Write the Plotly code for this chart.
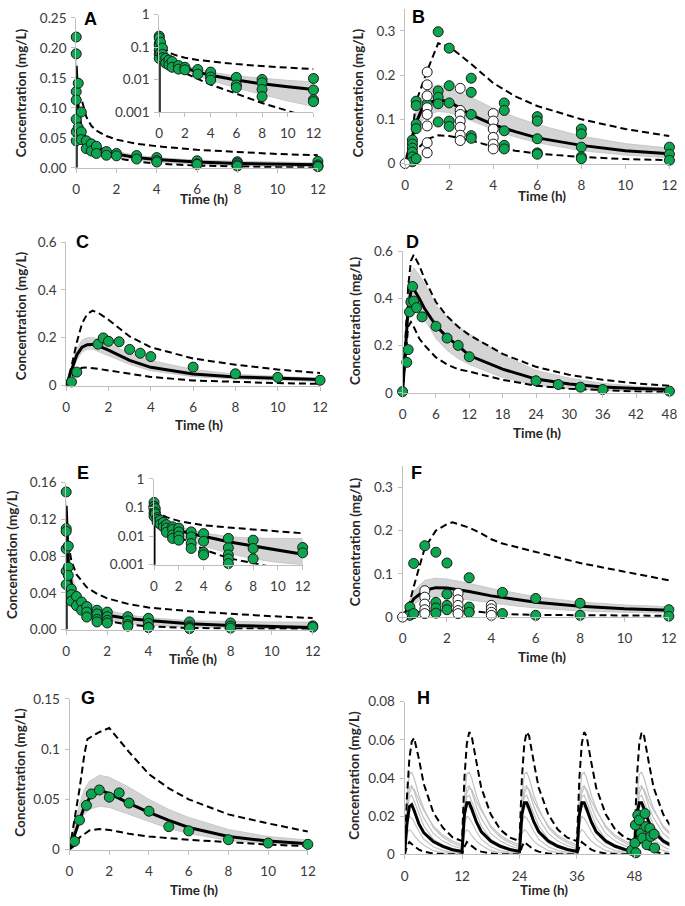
import plotly.graph_objects as go

FIG_W, FIG_H = 685, 906
GREEN = '#0ca550'
GRAY_FILL = '#d4d4d4'
GRAY_LINE = '#c2c2c2'
AXIS_COL = '#bfbfbf'
TICK_COL = '#3a3a3a'
FONT = 'Lato'

# ---------------- Panel A (IV, 0-12 h) ----------------
A_pt_t = [0, 0, 0, 0, 0, 0, 0, 0.1, 0.1, 0.25, 0.25, 0.25, 0.5, 0.5, 0.75, 0.75, 1, 1,
          1.5, 1.5, 2, 2, 3, 3, 4, 4, 4, 6, 6, 6, 8, 8, 8, 8, 12, 12, 12, 12]
A_pt_c = [0.218, 0.19, 0.127, 0.113, 0.081, 0.06, 0.045, 0.141, 0.067, 0.093, 0.06, 0.047,
          0.045, 0.032, 0.04, 0.028, 0.036, 0.024, 0.027, 0.021, 0.024, 0.02, 0.0204, 0.0147,
          0.017, 0.012, 0.0097, 0.0117, 0.0068, 0.0057, 0.0101, 0.008, 0.005, 0.003,
          0.0108, 0.0048, 0.0024, 0.0021]
A_med_t = [0, 0, 0.1, 0.25, 0.5, 0.75, 1, 1.5, 2, 3, 4, 6, 8, 10, 12]
A_med = [0, 0.17, 0.1, 0.065, 0.048, 0.04, 0.035, 0.028, 0.023, 0.017, 0.0137, 0.0097, 0.0074, 0.006, 0.005]
A_up_t = [0.3, 0.5, 0.75, 1, 1.5, 2, 3, 4, 6, 8, 10, 12]
A_up = [0.11, 0.085, 0.07, 0.062, 0.053, 0.047, 0.04, 0.036, 0.03, 0.026, 0.023, 0.021]
A_lo_t = [0.1, 0.25, 0.5, 1, 1.5, 2, 3, 4, 6, 8, 10, 12]
A_lo = [0.06, 0.045, 0.035, 0.026, 0.021, 0.016, 0.0105, 0.007, 0.0037, 0.0019, 0.0011, 0.0006]
A_g_t = [0, 0.1, 0.25, 0.5, 1, 1.5, 2, 3, 4, 6, 8, 10, 12]
A_g_hi = [0.2, 0.1, 0.07, 0.05, 0.038, 0.031, 0.027, 0.021, 0.017, 0.013, 0.011, 0.0095, 0.0085]
A_g_lo = [0.15, 0.07, 0.05, 0.038, 0.029, 0.023, 0.019, 0.013, 0.0095, 0.0055, 0.0034, 0.0022, 0.0015]

# ---------------- Panel B ----------------
B_pt_t = [1.5, 2, 3, 2, 1.5, 1.5, 1.5, 2, 3, 3, 3, 3, 2, 2, 1.5, 1, 0.5, 0.5, 0.5, 0.5,
          0.33, 0.33, 0.33, 0.33, 0.33, 0.33, 0.5, 4.5, 4.5, 4.5, 4.5, 4.5, 6, 6, 6, 6, 6,
          8, 8, 8, 8, 8, 12, 12, 12]
B_pt_c = [0.298, 0.261, 0.193, 0.176, 0.164, 0.150, 0.135, 0.137, 0.161, 0.111, 0.063, 0.057,
          0.096, 0.084, 0.094, 0.135, 0.141, 0.131, 0.089, 0.079, 0.053, 0.044, 0.035, 0.026,
          0.015, 0.004, 0.011, 0.137, 0.12, 0.074, 0.041, 0.033, 0.106, 0.096, 0.056, 0.024,
          0.021, 0.078, 0.067, 0.037, 0.015, 0.011, 0.037, 0.021, 0.0074]
B_wh_t = [0, 1, 1, 1, 1, 1, 1, 1, 1, 2.5, 2.5, 2.5, 2.5, 2.5, 2.5, 2.5, 4, 4, 4, 4, 4, 4]
B_wh_c = [0, 0.207, 0.178, 0.153, 0.126, 0.111, 0.085, 0.047, 0.024, 0.17, 0.12, 0.111, 0.096,
          0.082, 0.064, 0.052, 0.113, 0.096, 0.078, 0.059, 0.044, 0.033]
B_t = [0, 0.25, 0.5, 0.75, 1, 1.5, 2, 3, 4, 5, 6, 8, 10, 12]
B_med = [0, 0.045, 0.092, 0.122, 0.137, 0.144, 0.14, 0.11, 0.088, 0.072, 0.058, 0.041, 0.029, 0.022]
B_g_hi = [0, 0.06, 0.12, 0.155, 0.17, 0.178, 0.172, 0.15, 0.125, 0.105, 0.088, 0.062, 0.045, 0.035]
B_g_lo = [0, 0.03, 0.07, 0.095, 0.11, 0.118, 0.115, 0.097, 0.077, 0.06, 0.047, 0.029, 0.019, 0.013]
B_d_t = [0, 0.25, 0.5, 1, 1.5, 2, 3, 4, 5, 6, 8, 10, 12]
B_up = [0, 0.04, 0.14, 0.21, 0.272, 0.265, 0.225, 0.182, 0.152, 0.13, 0.1, 0.078, 0.062]
B_lo = [0, 0.01, 0.03, 0.055, 0.064, 0.062, 0.052, 0.038, 0.029, 0.022, 0.015, 0.01, 0.0075]

# ---------------- Panel C ----------------
C_pt_t = [0.25, 0.5, 1.5, 1.75, 2, 2.5, 3, 3.5, 4, 6, 8, 10, 12]
C_pt_c = [0.015, 0.056, 0.173, 0.199, 0.185, 0.183, 0.151, 0.135, 0.121, 0.077, 0.049, 0.034, 0.022]
C_t = [0, 0.25, 0.5, 0.75, 1, 1.25, 1.5, 2, 3, 4, 6, 8, 10, 12]
C_med = [0, 0.065, 0.128, 0.16, 0.171, 0.172, 0.167, 0.148, 0.105, 0.076, 0.048, 0.036, 0.029, 0.025]
C_g_hi = [0, 0.08, 0.155, 0.19, 0.2, 0.2, 0.195, 0.175, 0.135, 0.105, 0.067, 0.047, 0.037, 0.03]
C_g_lo = [0, 0.05, 0.105, 0.14, 0.152, 0.152, 0.145, 0.125, 0.088, 0.062, 0.037, 0.027, 0.021, 0.017]
C_up = [0, 0.08, 0.18, 0.26, 0.3, 0.313, 0.305, 0.275, 0.205, 0.16, 0.113, 0.087, 0.067, 0.052]
C_lo = [0, 0.035, 0.062, 0.074, 0.075, 0.073, 0.07, 0.063, 0.049, 0.036, 0.021, 0.014, 0.01, 0.007]

# ---------------- Panel D (0-48 h) ----------------
D_pt_t = [0, 0.75, 1, 1.25, 1.5, 1.8, 2, 2.5, 3.5, 6, 8, 10, 12, 24, 28, 32, 36, 48]
D_pt_c = [0.005, 0.129, 0.183, 0.343, 0.385, 0.451, 0.389, 0.361, 0.322, 0.282, 0.232,
          0.201, 0.153, 0.051, 0.035, 0.024, 0.014, 0.007]
D_t = [0, 0.5, 1, 1.5, 2, 3, 4, 6, 8, 10, 12, 18, 24, 30, 36, 42, 48]
D_med = [0, 0.17, 0.36, 0.43, 0.44, 0.4, 0.355, 0.285, 0.235, 0.2, 0.158, 0.1, 0.058, 0.037, 0.025, 0.018, 0.014]
D_g_hi = [0, 0.2, 0.42, 0.51, 0.53, 0.5, 0.46, 0.37, 0.32, 0.28, 0.25, 0.16, 0.095, 0.062, 0.04, 0.028, 0.02]
D_g_lo = [0, 0.14, 0.3, 0.37, 0.39, 0.35, 0.31, 0.23, 0.18, 0.145, 0.12, 0.065, 0.032, 0.018, 0.01, 0.006, 0.004]
D_up = [0, 0.22, 0.45, 0.56, 0.585, 0.54, 0.48, 0.385, 0.325, 0.28, 0.245, 0.165, 0.11, 0.076, 0.055, 0.04, 0.03]
D_lo = [0, 0.15, 0.28, 0.3, 0.28, 0.23, 0.2, 0.15, 0.12, 0.1, 0.09, 0.055, 0.03, 0.017, 0.01, 0.006, 0.004]

# ---------------- Panel E (IV, 0-12 h) ----------------
E_pt_t = [0, 0, 0, 0, 0, 0, 0.1, 0.1, 0.1, 0.25, 0.25, 0.25, 0.5, 0.5, 0.75, 0.75,
          1, 1, 1, 1.5, 1.5, 1.5, 1.5, 2, 2, 2, 2, 3, 3, 3, 3, 4, 4, 4, 4,
          6, 6, 6, 6, 6, 8, 8, 8, 12, 12]
E_pt_c = [0.15, 0.11, 0.107, 0.088, 0.0636, 0.049, 0.091, 0.068, 0.059, 0.044, 0.038, 0.031,
          0.036, 0.026, 0.030, 0.021, 0.025, 0.019, 0.0136, 0.021, 0.017, 0.011, 0.0083,
          0.019, 0.014, 0.010, 0.0072, 0.014, 0.0094, 0.0055, 0.0037, 0.0122, 0.0066, 0.0027,
          0.0022, 0.0083, 0.0039, 0.0022, 0.0016, 0.0011, 0.0072, 0.0037, 0.0016, 0.0040, 0.0026]
E_med_t = [0, 0, 0.1, 0.25, 0.5, 0.75, 1, 1.5, 2, 3, 4, 6, 8, 10, 12]
E_med = [0, 0.135, 0.075, 0.05, 0.036, 0.028, 0.023, 0.018, 0.0155, 0.012, 0.0098, 0.0063, 0.0045, 0.0032, 0.0023]
E_d_t = [0.1, 0.25, 0.5, 1, 1.5, 2, 3, 4, 6, 8, 10, 12]
E_up = [0.095, 0.075, 0.06, 0.046, 0.039, 0.034, 0.028, 0.024, 0.02, 0.017, 0.0145, 0.0125]
E_lo = [0.05, 0.036, 0.027, 0.018, 0.012, 0.0094, 0.0055, 0.0034, 0.0017, 0.0011, 0.0007, 0.0005]
E_g_t = [0, 0.1, 0.25, 0.5, 0.75, 1, 1.5, 2, 3, 4, 6, 8, 10, 12]
E_g_hi = [0.14, 0.09, 0.06, 0.044, 0.036, 0.031, 0.025, 0.021, 0.016, 0.013, 0.0095, 0.0085, 0.0083, 0.0082]
E_g_lo = [0.12, 0.065, 0.04, 0.028, 0.022, 0.018, 0.013, 0.01, 0.0065, 0.0045, 0.0025, 0.0016, 0.0012, 0.001]

# ---------------- Panel F ----------------
F_pt_t = [0.5, 1, 1.5, 2, 3, 4.5, 6, 8, 12, 12, 2, 2, 2, 1.5, 1.5, 1.5, 3, 3, 0.33, 0.33,
          0.5, 4.5, 6, 8]
F_pt_c = [0.124, 0.165, 0.150, 0.125, 0.091, 0.057, 0.043, 0.032, 0.017, 0.002, 0.053, 0.027,
          0.017, 0.034, 0.021, 0.009, 0.023, 0.011, 0.023, 0.004, 0.008, 0.008, 0.004, 0.004]
F_wh_t = [0, 1, 1, 1, 1, 1, 2.5, 2.5, 2.5, 2.5, 2.5, 4, 4, 4, 4]
F_wh_c = [0, 0.061, 0.046, 0.030, 0.017, 0.008, 0.055, 0.040, 0.027, 0.015, 0.008, 0.027,
          0.019, 0.011, 0.004]
F_t = [0, 0.25, 0.5, 1, 1.5, 2, 3, 4, 5, 6, 8, 10, 12]
F_med = [0, 0.022, 0.042, 0.062, 0.068, 0.067, 0.059, 0.049, 0.041, 0.034, 0.025, 0.019, 0.016]
F_g_hi = [0, 0.03, 0.06, 0.085, 0.09, 0.088, 0.078, 0.066, 0.056, 0.047, 0.035, 0.028, 0.024]
F_g_lo = [0, 0.015, 0.03, 0.045, 0.048, 0.046, 0.04, 0.033, 0.026, 0.021, 0.014, 0.011, 0.009]
F_up_t = [0, 0.25, 0.5, 1, 1.5, 2, 2.25, 3, 3.5, 4, 4.5, 6, 8, 10, 12]
F_up = [0, 0.02, 0.07, 0.16, 0.2, 0.215, 0.219, 0.207, 0.195, 0.18, 0.17, 0.15, 0.125, 0.105, 0.085]
F_lo_t = [0, 0.25, 0.5, 1, 1.5, 2, 3, 4, 4.5, 6, 8, 10, 12]
F_lo = [0, 0.005, 0.01, 0.014, 0.015, 0.015, 0.014, 0.01, 0.007, 0.005, 0.004, 0.0035, 0.003]

# ---------------- Panel G ----------------
G_pt_t = [0.25, 0.5, 0.85, 1.1, 1.5, 2, 2.5, 3, 4, 5, 6, 8, 10, 12]
G_pt_c = [0.0082, 0.0293, 0.044, 0.0554, 0.0593, 0.0522, 0.0564, 0.0463, 0.0382, 0.0228,
          0.0186, 0.0098, 0.0065, 0.0052]
G_t = [0, 0.25, 0.5, 0.75, 1, 1.5, 2, 3, 4, 5, 6, 8, 10, 12]
G_med = [0, 0.015, 0.03, 0.043, 0.051, 0.059, 0.056, 0.046, 0.037, 0.029, 0.022, 0.013, 0.0085, 0.0058]
G_g_hi = [0, 0.025, 0.045, 0.06, 0.068, 0.074, 0.072, 0.062, 0.05, 0.04, 0.032, 0.02, 0.013, 0.0095]
G_g_lo = [0, 0.012, 0.025, 0.035, 0.04, 0.043, 0.042, 0.035, 0.028, 0.021, 0.016, 0.009, 0.006, 0.004]
G_up_t = [0, 0.25, 0.5, 0.75, 0.9, 1.5, 2, 3, 4, 5, 6, 8, 10, 12]
G_up = [0, 0.03, 0.06, 0.095, 0.11, 0.117, 0.121, 0.097, 0.075, 0.061, 0.05, 0.035, 0.026, 0.018]
G_lo_t = [0, 0.25, 0.5, 1, 1.5, 2, 3, 4, 6, 8, 10, 12]
G_lo = [0, 0.004, 0.012, 0.019, 0.0205, 0.0196, 0.0157, 0.013, 0.0098, 0.0072, 0.005, 0.0033]

# ---------------- Panel H (multiple dosing every 12 h) ----------------
H_doses = [0, 12, 24, 36, 48]
H_tau = [0, 0.5, 1, 1.5, 2, 3, 4, 6, 8, 10, 12]
H_med_first = [0, 0.016, 0.025, 0.026, 0.023, 0.016, 0.0115, 0.0068, 0.0042, 0.0025, 0.0016]
H_med_ss = [0.0016, 0.021, 0.027, 0.027, 0.024, 0.017, 0.012, 0.007, 0.0043, 0.0026, 0.0016]
H_up_first = [0, 0.03, 0.05, 0.059, 0.061, 0.05, 0.037, 0.022, 0.014, 0.009, 0.007]
H_up_ss = [0.007, 0.04, 0.058, 0.064, 0.062, 0.048, 0.035, 0.021, 0.013, 0.0088, 0.007]
H_lo_ss = [0, 0.004, 0.0065, 0.0055, 0.0045, 0.0025, 0.0015, 0.0005, 0.0002, 0.0001, 0]
H_gray_ss = [
    [0.004, 0.03, 0.042, 0.043, 0.04, 0.031, 0.024, 0.014, 0.009, 0.006, 0.004],
    [0.005, 0.022, 0.032, 0.035, 0.034, 0.028, 0.023, 0.015, 0.01, 0.007, 0.005],
    [0.003, 0.025, 0.035, 0.036, 0.033, 0.025, 0.019, 0.011, 0.007, 0.0045, 0.003],
    [0.002, 0.022, 0.03, 0.031, 0.028, 0.021, 0.015, 0.008, 0.005, 0.003, 0.002],
    [0.0015, 0.019, 0.025, 0.025, 0.022, 0.016, 0.011, 0.006, 0.0035, 0.002, 0.0015],
    [0.001, 0.016, 0.02, 0.019, 0.017, 0.012, 0.008, 0.004, 0.002, 0.0012, 0.001],
    [0.0005, 0.011, 0.013, 0.012, 0.01, 0.007, 0.005, 0.002, 0.001, 0.0006, 0.0005],
]
H_pt_t = [47.4, 48.1, 48.2, 48.3, 48.7, 49.0, 49.4, 49.7, 50.2, 50.4, 50.6, 51.2, 51.4, 52.1, 52.2]
H_pt_c = [0.0022, 0.006, 0.0154, 0.0009, 0.0206, 0.018, 0.0111, 0.0086, 0.0214, 0.0146,
          0.0051, 0.0137, 0.0094, 0.0106, 0.0034]

# ---------------- tick labels ----------------
X12_vals = [0, 2, 4, 6, 8, 10, 12]
X48_vals = [0, 6, 12, 18, 24, 30, 36, 42, 48]
XH_vals = [0, 12, 24, 36, 48]
LOG_vals = [0.001, 0.01, 0.1, 1]
LOG_text = ['0.001', '0.01', '0.1', '1']
A_yt = [0, 0.05, 0.10, 0.15, 0.20, 0.25]
A_ytx = ['0.00', '0.05', '0.10', '0.15', '0.20', '0.25']
B_yt = [0, 0.1, 0.2, 0.3]
B_ytx = ['0', '0.1', '0.2', '0.3']
CD_yt = [0, 0.2, 0.4, 0.6]
CD_ytx = ['0', '0.2', '0.4', '0.6']
E_yt = [0, 0.04, 0.08, 0.12, 0.16]
E_ytx = ['0.00', '0.04', '0.08', '0.12', '0.16']
G_yt = [0, 0.05, 0.1, 0.15]
G_ytx = ['0', '0.05', '0.1', '0.15']
H_yt = [0, 0.02, 0.04, 0.06, 0.08]
H_ytx = ['0', '0.02', '0.04', '0.06', '0.08']

# ---------------- layout helpers ----------------
def xdom(a, b):
    return [a / FIG_W, b / FIG_W]


def ydom(top, bottom):
    return [1 - bottom / FIG_H, 1 - top / FIG_H]


# id: (x px left,right), (y px top,bottom), xrange, yrange, xticks, yticks, yticktext, log
AX = {
    1: ((73.5, 319.5), (10, 162.7), [0, 12], [0, 0.25], X12_vals, A_yt, A_ytx, False),
    2: ((158, 315), (6.7, 106), [0, 12], [-3, 0], X12_vals, LOG_vals, LOG_text, True),
    3: ((408.3, 677.3), (0.8, 158.3), [0, 12], [0, 0.35], X12_vals, B_yt, B_ytx, False),
    4: ((63.3, 321.7), (238.3, 384.3), [0, 12], [0, 0.6], X12_vals, CD_yt, CD_ytx, False),
    5: ((405.7, 677.3), (247.7, 391.7), [0, 48], [0, 0.6], X48_vals, CD_yt, CD_ytx, False),
    6: ((63.3, 314.3), (483.3, 632.7), [0, 12], [0, 0.16], X12_vals, E_yt, E_ytx, False),
    7: ((152.7, 304), (479.3, 566.7), [0, 12], [-3, 0], X12_vals, LOG_vals, LOG_text, True),
    8: ((405.7, 676.7), (466, 620), [0, 12], [0, 0.35], X12_vals, B_yt, B_ytx, False),
    9: ((66.7, 309.3), (703.3, 856.7), [0, 12], [0, 0.15], X12_vals, G_yt, G_ytx, False),
    10: ((407.7, 677.3), (706, 861.7), [0, 55.3], [0, 0.08], XH_vals, H_yt, H_ytx, False),
}

layout = dict(
    width=FIG_W, height=FIG_H, autosize=False,
    margin=dict(l=0, r=0, t=0, b=0),
    paper_bgcolor='white', plot_bgcolor='rgba(0,0,0,0)',
    showlegend=False,
    font=dict(family=FONT, size=14, color=TICK_COL),
)

for n, (xp, yp, xr, yr, xt, yt, ytx, islog) in AX.items():
    sfx = '' if n == 1 else str(n)
    layout['xaxis' + sfx] = dict(
        domain=xdom(*xp), anchor='y' + sfx, range=xr, tickvals=xt,
        showgrid=False, zeroline=False, showline=True, linecolor=AXIS_COL, linewidth=1,
        ticks='outside', ticklen=4, tickcolor=AXIS_COL, ticklabelstandoff=5,
        ticklabeloverflow='allow',
        tickfont=dict(family=FONT, size=13.5, color=TICK_COL), fixedrange=True,
    )
    layout['yaxis' + sfx] = dict(
        domain=ydom(*yp), anchor='x' + sfx, range=yr, tickvals=yt, ticktext=ytx,
        type='log' if islog else 'linear',
        showgrid=False, zeroline=False, showline=True, linecolor=AXIS_COL, linewidth=1,
        ticks='outside', ticklen=4, tickcolor=AXIS_COL, ticklabelstandoff=2,
        ticklabeloverflow='allow',
        tickfont=dict(family=FONT, size=13.5, color=TICK_COL), fixedrange=True,
    )

fig = go.Figure()


def refs(n):
    sfx = '' if n == 1 else str(n)
    return dict(xaxis='x' + sfx, yaxis='y' + sfx)


def band(n, t, hi, lo):
    fig.add_trace(go.Scatter(x=list(t) + list(t)[::-1], y=list(hi) + list(lo)[::-1],
                             mode='lines', fill='toself', fillcolor=GRAY_FILL,
                             line=dict(color=GRAY_LINE, width=0.8), hoverinfo='skip', **refs(n)))


def gline(n, t, y):
    fig.add_trace(go.Scatter(x=t, y=y, mode='lines', line=dict(color=GRAY_LINE, width=1.2),
                             hoverinfo='skip', **refs(n)))


def med(n, t, y):
    fig.add_trace(go.Scatter(x=t, y=y, mode='lines', line=dict(color='black', width=3),
                             **refs(n)))


def dashed(n, t, y):
    fig.add_trace(go.Scatter(x=t, y=y, mode='lines',
                             line=dict(color='black', width=2, dash='7px,4px'), **refs(n)))


def pts(n, t, y, fill):
    fig.add_trace(go.Scatter(x=t, y=y, mode='markers', cliponaxis=False,
                             marker=dict(size=10, color=fill, line=dict(color='#1a1a1a', width=1)),
                             **refs(n)))


# Panel A main + inset
for n in (1, 2):
    band(n, A_g_t, A_g_hi, A_g_lo)
    med(n, A_med_t, A_med)
    dashed(n, A_up_t, A_up)
    dashed(n, A_lo_t, A_lo)
    pts(n, A_pt_t, A_pt_c, GREEN)

# Panel B
band(3, B_t, B_g_hi, B_g_lo)
med(3, B_t, B_med)
dashed(3, B_d_t, B_up)
dashed(3, B_d_t, B_lo)
pts(3, B_pt_t, B_pt_c, GREEN)
pts(3, B_wh_t, B_wh_c, 'white')

# Panel C
band(4, C_t, C_g_hi, C_g_lo)
med(4, C_t, C_med)
dashed(4, C_t, C_up)
dashed(4, C_t, C_lo)
pts(4, C_pt_t, C_pt_c, GREEN)

# Panel D
band(5, D_t, D_g_hi, D_g_lo)
med(5, D_t, D_med)
dashed(5, D_t, D_up)
dashed(5, D_t, D_lo)
pts(5, D_pt_t, D_pt_c, GREEN)

# Panel E main + inset
for n in (6, 7):
    band(n, E_g_t, E_g_hi, E_g_lo)
    med(n, E_med_t, E_med)
    dashed(n, E_d_t, E_up)
    dashed(n, E_d_t, E_lo)
    pts(n, E_pt_t, E_pt_c, GREEN)

# Panel F
band(8, F_t, F_g_hi, F_g_lo)
med(8, F_t, F_med)
dashed(8, F_up_t, F_up)
dashed(8, F_lo_t, F_lo)
pts(8, F_pt_t, F_pt_c, GREEN)
pts(8, F_wh_t, F_wh_c, 'white')

# Panel G
band(9, G_t, G_g_hi, G_g_lo)
med(9, G_t, G_med)
dashed(9, G_up_t, G_up)
dashed(9, G_lo_t, G_lo)
pts(9, G_pt_t, G_pt_c, GREEN)


# Panel H: assemble the 12-hourly profiles
def multi(first, ss):
    tt, yy = [], []
    for i, d in enumerate(H_doses):
        prof = first if i == 0 else ss
        for tau, v in zip(H_tau, prof):
            tt.append(d + tau)
            yy.append(v)
    return tt, yy


for g in H_gray_ss:
    gline(10, *multi([0] + g[1:], g))
med(10, *multi(H_med_first, H_med_ss))
dashed(10, *multi(H_up_first, H_up_ss))
dashed(10, *multi(H_lo_ss, H_lo_ss))
pts(10, H_pt_t, H_pt_c, GREEN)

# ---------------- annotations: titles and panel letters ----------------
ann = []


def text_at(x, y, s, size, bold=True, angle=0, family=FONT, color='#262626'):
    ann.append(dict(x=x / FIG_W, y=1 - y / FIG_H, xref='paper', yref='paper',
                    text='<b>%s</b>' % s if bold else s, showarrow=False,
                    textangle=angle, xanchor='center', yanchor='middle',
                    font=dict(family=family, size=size, color=color)))


XT = 'Time (h)'
YT = 'Concentration (mg/L)'
for (x, y) in [(204, 194), (548, 191), (198, 425), (543, 433), (192, 663), (548, 661),
               (193, 898), (550, 898)]:
    text_at(x, y, XT, 13.5)
for (x, y) in [(18, 86), (361, 86), (18, 313), (358, 318), (8, 556), (358, 543),
               (16.7, 778), (356.7, 781)]:
    text_at(x, y, YT, 13.5, angle=-90)

for (x, y, s) in [(88, 11, 'A'), (422, 9, 'B'), (80, 238, 'C'), (416, 238, 'D'),
                  (80, 473, 'E'), (420, 473, 'F'), (85, 702, 'G'), (427, 702, 'H')]:
    text_at(x, y, s, 18, family='Liberation Sans, Arial', color='black')

layout['annotations'] = ann
fig.update_layout(**layout)

# the page body has a default 8px margin; remove it so the figure fills the window
fig.write_html('out.html',
               config={'displayModeBar': False},
               post_script="document.body.style.margin='0';document.body.style.padding='0';"
                           "document.body.style.overflow='hidden';")
